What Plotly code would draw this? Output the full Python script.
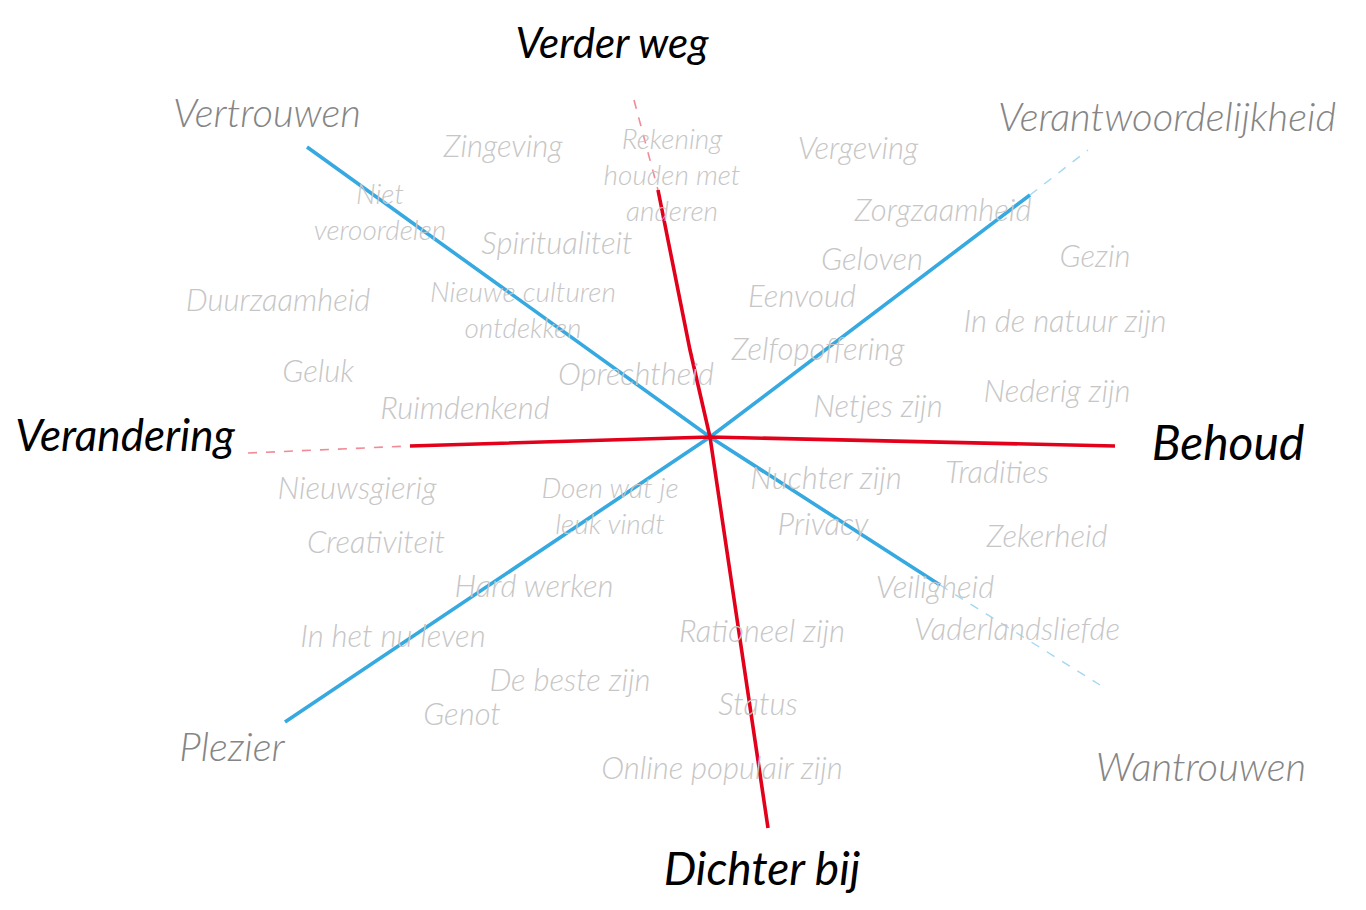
import plotly.graph_objects as go

# ---- data -------------------------------------------------------------
# main axis labels (black)
axis_labels = ["Verder weg", "Verandering", "Behoud", "Dichter bij"]
axis_x = [612, 125, 1228, 762]
axis_y = [47, 440, 448, 873]

# diagonal labels (grey)
diag_labels = ["Vertrouwen", "Verantwoordelijkheid", "Plezier", "Wantrouwen"]
diag_x = [267, 1167, 232, 1201]
diag_y = [117, 121, 751, 771]

# values (light grey)
value_labels = [
    "Zingeving", "Rekening<br>houden met<br>anderen", "Vergeving",
    "Niet<br>veroordelen", "Spiritualiteit", "Zorgzaamheid", "Geloven", "Gezin",
    "Duurzaamheid", "Nieuwe culturen<br>ontdekken", "Eenvoud", "In de natuur zijn",
    "Zelfopoffering", "Geluk", "Oprechtheid", "Ruimdenkend", "Netjes zijn",
    "Nederig zijn", "Nieuwsgierig", "Doen wat je<br>leuk vindt", "Nuchter zijn",
    "Tradities", "Creativiteit", "Privacy", "Zekerheid", "Hard werken",
    "Veiligheid", "Vaderlandsliefde", "Rationeel zijn", "In het nu leven",
    "De beste zijn", "Status", "Genot", "Online populair zijn",
]
value_x = [
    503, 672, 858,
    380, 557, 943, 872, 1095,
    278, 523, 802, 1065,
    818, 318, 636, 465, 878,
    1057, 357, 610, 826,
    997, 376, 823, 1047, 534,
    935, 1017, 762, 393,
    570, 758, 462, 722,
]
value_y = [
    149, 178, 151,
    215, 246, 213, 262, 259,
    303, 313, 299, 324,
    352, 374, 377, 411, 409,
    394, 491, 509, 481,
    475, 545, 527, 539, 589,
    590, 632, 634, 639,
    683, 707, 717, 771,
]

# axis strokes (points along each hand-drawn line)
red_h_x = [248, 410, 710, 1115]
red_h_y = [453, 446, 437, 446]
red_v_x = [634, 658, 690, 710, 740, 768]
red_v_y = [100, 190, 350, 437, 640, 828]
blue_a_x = [307, 710, 940, 1100]
blue_a_y = [147, 437, 585, 685]
blue_b_x = [285, 710, 1030, 1088]
blue_b_y = [722, 437, 195, 150]

RED = "#e2001a"
BLUE = "#36a9e1"
FONT = "Lato"

fig = go.Figure()


def stroke(xs, ys, color, faint_first=False, faint_last=False):
    n = len(xs)
    start = 1 if faint_first else 0
    end = n - 2 if faint_last else n - 1
    fig.add_trace(go.Scatter(x=xs[start:end + 1], y=ys[start:end + 1], mode="lines",
                             line=dict(color=color, width=3.6), hoverinfo="skip",
                             showlegend=False))
    if faint_first:
        fig.add_trace(go.Scatter(x=xs[0:2], y=ys[0:2], mode="lines",
                                 line=dict(color=color, width=1.6, dash="dash"),
                                 opacity=0.45, hoverinfo="skip", showlegend=False))
    if faint_last:
        fig.add_trace(go.Scatter(x=xs[n - 2:], y=ys[n - 2:], mode="lines",
                                 line=dict(color=color, width=1.4, dash="dash"),
                                 opacity=0.45, hoverinfo="skip", showlegend=False))


stroke(blue_a_x, blue_a_y, BLUE, faint_last=True)
stroke(blue_b_x, blue_b_y, BLUE, faint_last=True)
stroke(red_h_x, red_h_y, RED, faint_first=True)
stroke(red_v_x, red_v_y, RED, faint_first=True)

# value labels: single-line ones slightly larger than the wrapped ones
value_sizes = [28 if "<br>" in t else 31 for t in value_labels]

fig.add_trace(go.Scatter(
    x=value_x, y=value_y, text=value_labels, mode="text",
    textposition="middle center", hoverinfo="skip", showlegend=False,
    textfont=dict(family=FONT, size=value_sizes, color="#c6c6c6", style="italic", weight=300),
))
fig.add_trace(go.Scatter(
    x=diag_x, y=diag_y, text=diag_labels, mode="text",
    textposition="middle center", hoverinfo="skip", showlegend=False,
    textfont=dict(family=FONT, size=40, color="#858585", style="italic", weight=300),
))
fig.add_trace(go.Scatter(
    x=axis_x, y=axis_y, text=axis_labels, mode="text",
    textposition="middle center", hoverinfo="skip", showlegend=False,
    textfont=dict(family=FONT, size=[42, 44, 48, 46], color="#000000", style="italic", weight=400),
))

fig.update_layout(
    width=1366, height=910,
    margin=dict(l=0, r=0, t=0, b=0),
    paper_bgcolor="white", plot_bgcolor="white",
    xaxis=dict(range=[0, 1366], visible=False, fixedrange=True),
    yaxis=dict(range=[910, 0], visible=False, fixedrange=True),
    showlegend=False,
)

fig.write_html(
    "out.html",
    config={"displayModeBar": False},
    post_script="document.body.style.margin='0';document.body.style.overflow='hidden';",
)
